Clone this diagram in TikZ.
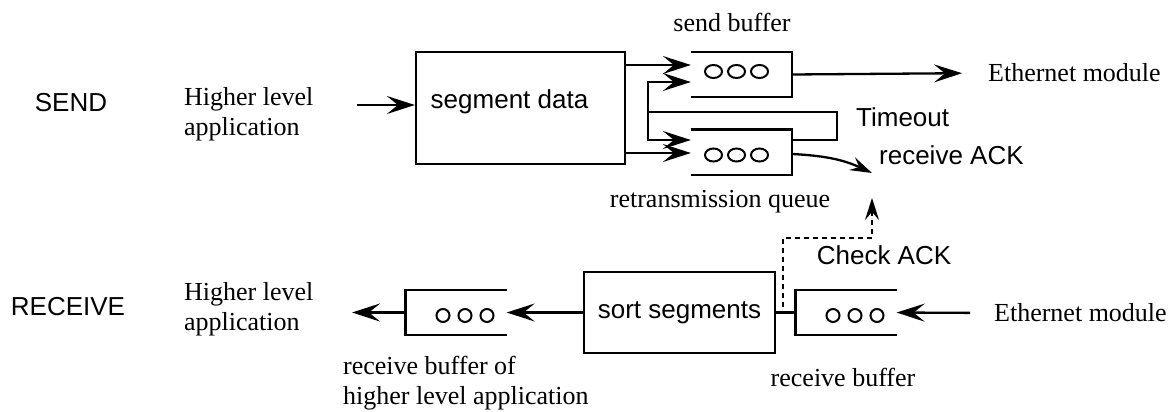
\documentclass[tikz,border=0pt]{standalone}
\usepackage{fontspec}
\setmainfont{Liberation Serif}
\setsansfont{Liberation Sans}
\usetikzlibrary{arrows.meta}

\begin{document}
\begin{tikzpicture}[x=1pt, y=-1pt, line width=2.3pt,
    every node/.style={font=\fontsize{26}{30}\selectfont, inner sep=0pt},
    sflab/.style={font=\fontsize{26}{30}\sffamily\selectfont},
    box/.style={draw, sflab},
    qbox/.style={minimum width=99pt, minimum height=43pt},
    arr/.style={-{Stealth[length=28pt,width=18pt,inset=11pt]}},
    sarr/.style={-{Stealth[length=22pt,width=14pt,inset=8pt]}}]
  \useasboundingbox (0,0) rectangle (1175,412);

  \node[sflab] (send) at (71,103) {SEND};
  \node[sflab] (recv) at (68,307) {RECEIVE};

  \node[align=left, anchor=west] (hla1) at (183,114) {Higher level\\application};
  \node[box, minimum width=209pt, minimum height=112pt,
        label={[sflab,xshift=-11pt,yshift=6pt]center:segment data}] (seg) at (520.5,108) {};
  \node[qbox] (sb) at (741.5,74.5) {};
  \node[qbox] (rq) at (741.5,152) {};
  \node (sbl) at (732,22) {send buffer};
  \node (rql) at (720,202) {retransmission queue};
  \node[anchor=west] (eth1) at (987,73) {Ethernet module};
  \node[sflab, anchor=west] (tout) at (855,117) {Timeout};
  \node[sflab, anchor=west] (rack) at (878,155) {receive ACK};

  \node[align=left, anchor=west] (hla2) at (183,309) {Higher level\\application};
  \node[qbox] (hb) at (456,312.5) {};
  \node[box, minimum width=191pt, minimum height=81pt] (ss) at (679.5,312.5) {sort segments};
  \node[qbox] (rb) at (846,312.5) {};
  \node[anchor=west] (eth2) at (993,313) {Ethernet module};
  \node[align=left, anchor=west] (hbl) at (342,383) {receive buffer of\\higher level application};
  \node (rbl) at (843,377) {receive buffer};
  \node[sflab] (chk) at (884,255) {Check ACK};

  \foreach \q in {sb,rq}
    \draw (\q.north west) -- (\q.north east) -- (\q.south east) -- (\q.south west);
  \foreach \q in {hb,rb}
    \draw (\q.north east) -- (\q.north west) -- (\q.south west) -- (\q.south east);
  \foreach \q/\dy in {sb/3,rq/-3} \foreach \dx in {-28,-5,18}
    \draw[line width=2pt] ([xshift=\dx pt,yshift=\dy pt]\q.center) ellipse [x radius=8.5pt, y radius=6.5pt];
  \foreach \q in {hb,rb} \foreach \dx in {-13,9,31}
    \draw[line width=2pt] ([xshift=\dx pt,yshift=-3pt]\q.center) ellipse [x radius=6.5pt, y radius=6.5pt];

  \coordinate (in1) at (357,105);
  \draw[arr] (in1) -- (in1 -| seg.west);
  \draw[arr] (seg.east |- 0,65) -- (sb.west |- 0,65);
  \draw[arr] (seg.east |- 0,153) -- (rq.west |- 0,153);
  \coordinate (jn) at (648,112);
  \draw (rq.east |- 0,140) -- (837,140) |- (jn);
  \draw[arr] (jn) |- (sb.west |- 0,82);
  \draw[arr] (jn) |- (rq.west |- 0,140);
  \draw[arr, shorten >=25pt] (sb.east) -- (eth1.west);
  \coordinate (ack) at (872,173);
  \draw[sarr] (rq.east |- 0,154) to[out=-3, in=155] (ack);

  \coordinate (ck) at (783,307);
  \coordinate (ackb) at (872,198);
  \draw[sarr, line width=1.8pt, dash pattern=on 5pt off 4pt] (ck) |- (ackb |- 0,238) -- (ackb);
  \draw[arr] (ss.west) -- (hb.east);
  \draw (ss.east) -- (rb.west);
  \draw[arr, shorten <=23pt] (eth2.west) -- (rb.east);
  \coordinate (out1) at (352,312.5);
  \draw[arr] (hb.west) -- (out1);
\end{tikzpicture}
\end{document}
